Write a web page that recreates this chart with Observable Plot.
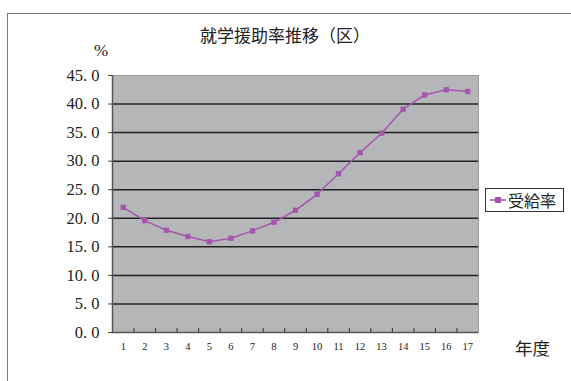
<!DOCTYPE html>
<html><head><meta charset="utf-8">
<script src="https://cdn.jsdelivr.net/npm/d3@7"></script>
<script src="https://cdn.jsdelivr.net/npm/@observablehq/plot@0.6"></script>
<style>
body{margin:0;background:#fff;}
#wrap{position:relative;width:571px;height:381px;overflow:hidden;font-family:"Noto Sans CJK JP",sans-serif;}
#frame{position:absolute;left:7px;top:13px;width:600px;height:400px;border-left:1.5px solid #7a7a7a;border-top:1.5px solid #7a7a7a;}
.lbl{position:absolute;color:#222;white-space:nowrap;}
#legend{position:absolute;left:485px;top:188px;width:77px;height:22px;border:1px solid #333;background:#fff;}
#chart{position:absolute;left:0;top:0;}
</style></head>
<body><div id="wrap"><div id="frame"></div><div id="chart"></div>
<div class="lbl" id="title" style="left:0;width:570px;top:22px;text-align:center;font-size:17px;">就学援助率推移（区）</div>
<div class="lbl" style="left:94px;top:41px;font-size:17px;font-family:'Liberation Serif',serif;">%</div>
<div class="lbl" style="left:515px;top:335px;font-size:17.5px;">年度</div>
<div id="legend"><svg width="77" height="22"><line x1="4" y1="11" x2="20" y2="11" stroke="#a555ad" stroke-width="1.5"/><rect x="9" y="8" width="6" height="6" fill="#a555ad"/></svg><span class="lbl" style="left:22px;top:-1px;font-size:16px;">受給率</span></div>
</div>
<script>
const years = [1,2,3,4,5,6,7,8,9,10,11,12,13,14,15,16,17];
const rates = [21.9,19.6,17.9,16.8,15.9,16.5,17.8,19.3,21.4,24.2,27.8,31.5,34.9,39.1,41.6,42.5,42.2];
const yTicks = [0,5,10,15,20,25,30,35,40,45];
const gridLines = [5,10,15,20,25,30,35,40];
const boundaries = [0.5,1.5,2.5,3.5,4.5,5.5,6.5,7.5,8.5,9.5,10.5,11.5,12.5,13.5,14.5,15.5,16.5,17.5];
const data = years.map((y,i)=>({year:y, rate:rates[i]}));
const col = "#a555ad";
const chart = Plot.plot({
  width:571, height:381,
  marginLeft:112, marginRight:93, marginTop:75, marginBottom:49,
  style:{background:"transparent", fontFamily:"'Liberation Serif',serif", color:"#222"},
  x:{type:"linear", domain:[0.5,17.5]},
  y:{domain:[0,45]},
  marks:[
    Plot.frame({fill:"#b5b6b8", stroke:"#9a9a9a"}),
    Plot.ruleY(gridLines,{stroke:"#222", strokeWidth:1.5}),
    Plot.ruleY([0],{stroke:"#555", strokeWidth:1.5}),
    Plot.ruleX([0.5],{stroke:"#555", strokeWidth:1.5}),
    Plot.axisY({ticks:yTicks, tickSize:4, tickPadding:9, fontSize:16.5, tickFormat:d=>d.toFixed(1).replace(".",". "), label:null, stroke:"#444"}),
    Plot.axisX({ticks:boundaries.slice(1,-1), tickSize:-4, tickFormat:()=>"", label:null, stroke:"#333"}),
    Plot.axisX({ticks:years, tickSize:0, tickPadding:10, fontSize:10.5, tickFormat:d=>String(d), label:null}),
    Plot.line(data,{x:"year", y:"rate", stroke:col, strokeWidth:1.5}),
    Plot.dot(data,{x:"year", y:"rate", symbol:"square", r:3, fill:col})
  ]
});
document.getElementById("chart").appendChild(chart);
</script></body></html>
